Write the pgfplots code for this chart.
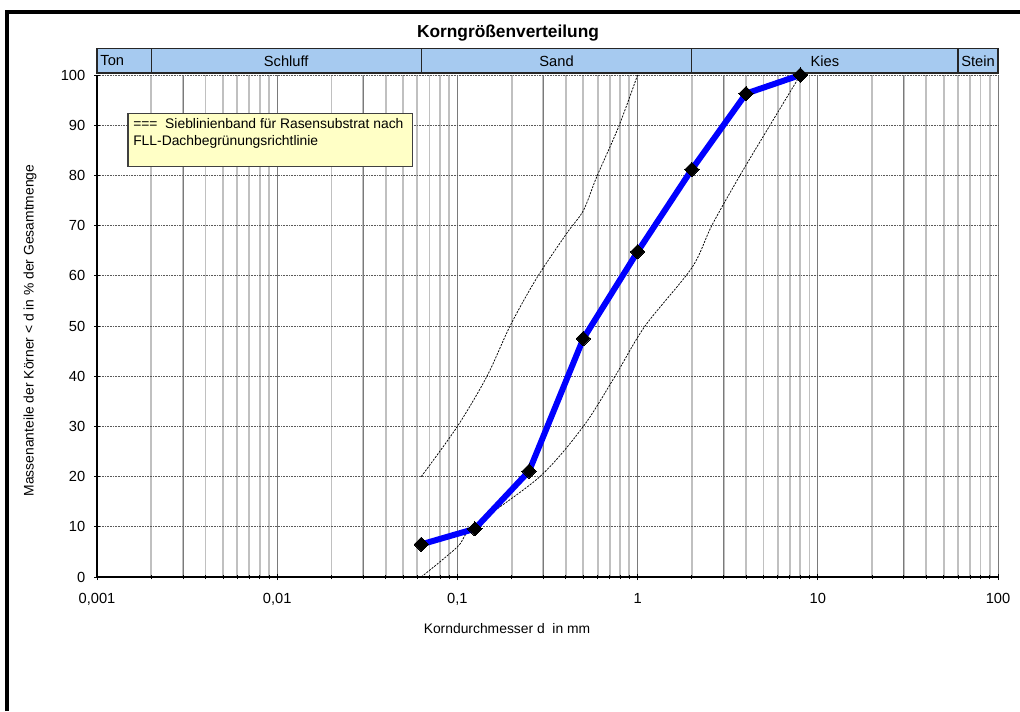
\documentclass[border=0pt]{standalone}
\usepackage{pgfplots}
\pgfplotsset{compat=1.18}
\usepackage{fontspec}
\setmainfont{Liberation Sans}
\definecolor{bandblue}{HTML}{A6CAF0}
\definecolor{legyellow}{HTML}{FFFFC6}
\definecolor{lightgrid}{HTML}{C0C0C0}
\definecolor{darkgrid}{HTML}{7A7A7A}
\definecolor{hgrid}{HTML}{5A5A5A}
\begin{document}
\begin{tikzpicture}[x=1pt,y=1pt]
\useasboundingbox (0,0) rectangle (765,533.25);
\draw[line width=2.6pt, line join=miter] (5.25,0) -- (5.25,524.25) -- (765,524.25);
\node[font=\bfseries\fontsize{13}{15}\selectfont, anchor=base] at (381,504.75) {Korngrößenverteilung};
\begin{axis}[
  at={(72.75pt,100.5pt)}, anchor=south west,
  scale only axis, width=675.75pt, height=376.5pt,
  xmode=log, xmin=0.001, xmax=100, ymin=0, ymax=100,
  clip=false,
  axis x line*=bottom, axis y line*=left,
  axis line style={black, line width=0.9pt, -},
  xtick={0.001,0.01,0.1,1,10,100},
  xticklabels={{0,001},{0,01},{0,1},{1},{10},{100}},
  minor xtick={0.002,0.003,0.004,0.005,0.006,0.007,0.008,0.009,
               0.02,0.03,0.04,0.05,0.06,0.07,0.08,0.09,
               0.2,0.3,0.4,0.5,0.6,0.7,0.8,0.9,
               2,3,4,5,6,7,8,9,
               20,30,40,50,60,70,80,90},
  ytick={0,10,...,100},
  tick align=center,
  major tick length=4.5pt, minor tick length=3pt,
  tick style={black, line width=0.6pt},
  xminorgrids, xmajorgrids, ymajorgrids,
  minor x grid style={lightgrid, line width=1.4pt},
  major x grid style={darkgrid, line width=0.7pt},
  major y grid style={hgrid, line width=0.6pt, dash pattern=on 0.8pt off 0.4pt},
  extra x ticks={0.003,0.03,0.3,3,30},
  extra x tick labels={},
  extra x tick style={grid=major, major grid style={darkgrid, line width=0.7pt}, major tick length=3pt},
  ticklabel style={font=\fontsize{11}{13}\selectfont},
  /pgf/number format/assume math mode=true,
  xticklabel style={yshift=-6.5pt},
  yticklabel style={xshift=-3pt},
]
% band boxes
\draw[fill=bandblue, draw=black!85, line width=0.9pt] (axis cs:0.001,100.4) rectangle (axis cs:0.002,105.2);
\draw[fill=bandblue, draw=black!85, line width=0.9pt] (axis cs:0.002,100.4) rectangle (axis cs:0.063,105.2);
\draw[fill=bandblue, draw=black!85, line width=0.9pt] (axis cs:0.063,100.4) rectangle (axis cs:2,105.2);
\draw[fill=bandblue, draw=black!85, line width=0.9pt] (axis cs:2,100.4) rectangle (axis cs:60,105.2);
\draw[fill=bandblue, draw=black!85, line width=0.9pt] (axis cs:60,100.4) rectangle (axis cs:100,105.2);
\node[font=\fontsize{11}{13}\selectfont, anchor=west, inner sep=0pt, xshift=2.4pt] at (axis cs:0.001,102.8) {Ton};
\node[font=\fontsize{11}{13}\selectfont] at (axis cs:0.01122,102.8) {Schluff};
\node[font=\fontsize{11}{13}\selectfont] at (axis cs:0.355,102.8) {Sand};
\node[font=\fontsize{11}{13}\selectfont] at (axis cs:10.95,102.8) {Kies};
\node[font=\fontsize{11}{13}\selectfont] at (axis cs:77.5,102.8) {Stein};
% sieve band limits
\addplot[black, line width=0.55pt, dash pattern=on 1.6pt off 0.9pt, smooth, tension=0.5] coordinates {
 (0.063,20) (0.1,30) (0.146,40) (0.196,50) (0.275,59.5) (0.405,68.5) (0.5,73) (0.593,79.7) (0.785,89.7) (1,100)};
\addplot[black, line width=0.55pt, dash pattern=on 1.6pt off 0.9pt, smooth, tension=0.5] coordinates {
 (0.063,0) (0.1,6) (0.122,10) (0.287,20) (0.5,30) (0.75,40) (1.1,50) (2,61.6) (2.58,70) (3.7,80) (5.43,90) (8,100)};
% measured grading curve
\addplot[blue, line width=4.5pt, mark=square*, mark size=3.8pt, mark options={black, fill=black, rotate=45, line width=0pt}] coordinates {
 (0.063,6.5) (0.125,9.6) (0.25,21.1) (0.5,47.5) (1,64.8) (2,81.2) (4,96.3) (8,100)};
% legend box
\draw[fill=legyellow, draw=black!75, line width=0.9pt] (axis cs:0.001486,81.7) rectangle (axis cs:0.0561,92.4);
\node[anchor=north west, inner sep=0pt, xshift=3.75pt, yshift=-3.5pt, align=left, font=\fontsize{10.4}{12.75}\selectfont] at (axis cs:0.001486,92.4) {===\ \ Sieblinienband für Rasensubstrat nach\\FLL-Dachbegrünungsrichtlinie};
\end{axis}
\node[font=\fontsize{10.4}{12.5}\selectfont] at (380.25,61.5) {Korndurchmesser d\ \ in mm};
\node[font=\fontsize{10.4}{12.5}\selectfont, rotate=90] at (22.5,285.4) {Massenanteile der Körner < d in \% der Gesamtmenge};
\end{tikzpicture}
\end{document}
